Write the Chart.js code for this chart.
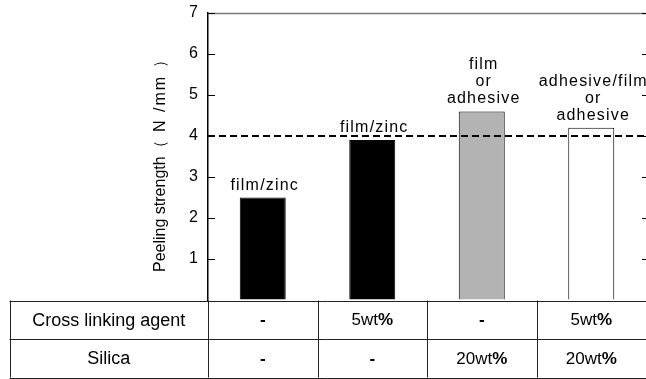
<!DOCTYPE html>
<html><head><meta charset="utf-8">
<script src="https://cdn.jsdelivr.net/npm/chart.js@4"></script>
<style>html,body{margin:0;padding:0;background:#fff;} #wrap{width:646px;height:379px;}</style>
</head><body><div id="wrap"><canvas id="c" width="646" height="379"></canvas></div>
<script>
const categories = ['1', '2', '3', '4'];
const strength = [2.5, 3.9, 4.6, 4.2];
const barLabels = [['film/zinc'], ['film/zinc'], ['film', 'or', 'adhesive'], ['adhesive/film', 'or', 'adhesive']];
const rowHeaders = ['Cross linking agent', 'Silica'];
const crossLinking = ['-', '5wt%', '-', '5wt%'];
const silica = ['-', '-', '20wt%', '20wt%'];
const threshold = 4;
const yTickValues = [1, 2, 3, 4, 5, 6, 7];
const barColors = ['#000000', '#000000', '#b3b3b3', '#ffffff'];
const yTitleMain = 'Peeling strength';
const yTitleUnit = '（ N /mm ）';

const FONT = '"Liberation Sans", Arial, sans-serif';

function drawCellText(ctx, text, cx, cy, size) {
  let parts = [];
  if (text === '-') parts = [{t: '-', b: true}];
  else if (text.endsWith('%')) parts = [{t: text.slice(0, -1), b: false}, {t: '%', b: true}];
  else parts = [{t: text, b: false}];
  let total = 0;
  parts.forEach(p => { ctx.font = (p.b ? 'bold ' : '') + size + 'px ' + FONT; p.w = ctx.measureText(p.t).width; total += p.w; });
  let x = cx - total / 2;
  ctx.textAlign = 'left'; ctx.textBaseline = 'middle';
  parts.forEach(p => { ctx.font = (p.b ? 'bold ' : '') + size + 'px ' + FONT; ctx.fillText(p.t, x, cy); x += p.w; });
}

const extras = {
  id: 'extras',
  afterDraw(chart) {
    const ctx = chart.ctx, a = chart.chartArea, ys = chart.scales.y, xs = chart.scales.x;
    const W = chart.width;
    ctx.save();
    // top frame line
    ctx.strokeStyle = '#7a7a7a'; ctx.lineWidth = 1.5;
    ctx.beginPath(); ctx.moveTo(a.left, a.top + 0.5); ctx.lineTo(W, a.top + 0.5); ctx.stroke();
    // inner ticks
    ctx.strokeStyle = '#000'; ctx.lineWidth = 1;
    yTickValues.forEach(v => {
      const y = Math.round(ys.getPixelForValue(v)) + 0.5;
      ctx.beginPath(); ctx.moveTo(a.left, y); ctx.lineTo(a.left + 7, y); ctx.stroke();
      ctx.beginPath(); ctx.moveTo(W - 4, y); ctx.lineTo(W, y); ctx.stroke();
    });
    // threshold dashed line
    const ty = ys.getPixelForValue(threshold);
    ctx.setLineDash([7, 4]); ctx.lineWidth = 2;
    ctx.beginPath(); ctx.moveTo(a.left, ty); ctx.lineTo(W, ty); ctx.stroke();
    ctx.setLineDash([]);
    // y axis title
    ctx.save();
    ctx.translate(161, a.bottom - 28);
    ctx.rotate(-Math.PI / 2);
    ctx.fillStyle = '#000'; ctx.textAlign = 'left'; ctx.textBaseline = 'middle';
    ctx.font = '16px ' + FONT;
    ctx.fillText(yTitleMain, 0, 0);
    const tw = ctx.measureText(yTitleMain).width;
    ctx.letterSpacing = '2px';
    ctx.fillText(yTitleUnit, tw, 0);
    ctx.letterSpacing = '0px';
    ctx.restore();
    // bar labels
    const meta = chart.getDatasetMeta(0);
    ctx.fillStyle = '#000'; ctx.font = '16px ' + FONT; ctx.textAlign = 'center'; ctx.textBaseline = 'alphabetic';
    ctx.letterSpacing = '1.2px';
    meta.data.forEach((bar, i) => {
      const lines = barLabels[i];
      lines.forEach((ln, j) => {
        const y = bar.y - 8 - (lines.length - 1 - j) * 17;
        ctx.fillText(ln, bar.x + 2, y);
      });
    });
    ctx.letterSpacing = '0px';
    // table
    const top = Math.round(a.bottom) + 0.5;
    const rowH = 38.5;
    const tl = 9.5;
    const step = xs.getPixelForValue(1) - xs.getPixelForValue(0);
    const bounds = [tl, a.left];
    categories.forEach((c, i) => { bounds.push(xs.getPixelForValue(i) + step / 2); });
    ctx.strokeStyle = '#222'; ctx.lineWidth = 1;
    for (let r = 0; r <= 2; r++) {
      const y = Math.round(top + r * rowH) + 0.5;
      ctx.beginPath(); ctx.moveTo(tl, y); ctx.lineTo(W, y); ctx.stroke();
    }
    bounds.forEach(x => {
      const xx = Math.round(x) + 0.5;
      ctx.beginPath(); ctx.moveTo(xx, top); ctx.lineTo(xx, top + 2 * rowH); ctx.stroke();
    });
    ctx.fillStyle = '#000';
    const rows = [crossLinking, silica];
    rows.forEach((row, r) => {
      const cy = top + r * rowH + rowH / 2 + 1;
      ctx.font = '18px ' + FONT; ctx.textAlign = 'center'; ctx.textBaseline = 'middle';
      ctx.fillText(rowHeaders[r], (tl + a.left) / 2, cy);
      row.forEach((t, i) => drawCellText(ctx, t, xs.getPixelForValue(i), cy, 17));
    });
    ctx.restore();
  }
};

new Chart(document.getElementById('c'), {
  type: 'bar',
  data: {
    labels: categories,
    datasets: [{
      data: strength,
      backgroundColor: barColors,
      borderColor: '#000',
      borderWidth: 1,
      barPercentage: 0.42,
      categoryPercentage: 1
    }]
  },
  options: {
    responsive: false,
    animation: false,
    devicePixelRatio: 1,
    layout: { padding: { top: 13, bottom: 79, left: 0, right: -3 } },
    plugins: { legend: { display: false }, tooltip: { enabled: false } },
    scales: {
      x: { display: false, offset: true, grid: { display: false } },
      y: {
        min: 0, max: 7,
        afterFit(s) { s.width = 208; s.paddingTop = 0; s.paddingBottom = 0; },
        ticks: { stepSize: 1, color: '#000', padding: 10, font: { family: FONT, size: 16 },
          callback: v => (v === 0 ? '' : v) },
        grid: { display: true, drawOnChartArea: false, drawTicks: false },
        border: { display: true, color: '#000', width: 1.5 },
        title: { display: false }
      }
    }
  },
  plugins: [extras]
});
</script>
</body></html>
